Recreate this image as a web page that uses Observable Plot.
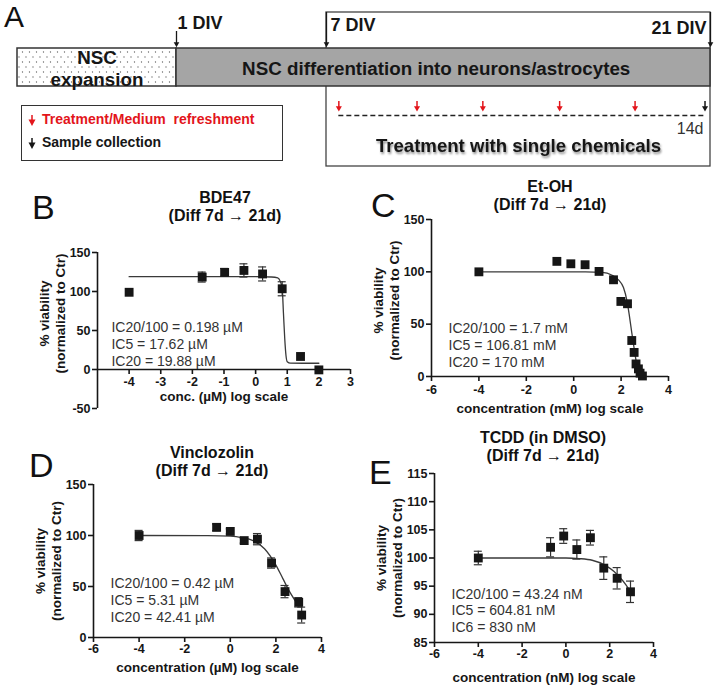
<!DOCTYPE html>
<html><head><meta charset="utf-8">
<script src="https://cdn.jsdelivr.net/npm/d3@7"></script>
<script src="https://cdn.jsdelivr.net/npm/@observablehq/plot@0.6"></script>
<style>
html,body{margin:0;padding:0;background:#fff;}
#fig{position:relative;width:716px;height:685px;overflow:hidden;font-family:"Liberation Sans",Arial,Helvetica,sans-serif;color:#111;}
.box{position:absolute;}
.letter{position:absolute;font-size:34px;line-height:34px;font-weight:normal;color:#111;}
.title{position:absolute;width:240px;text-align:center;font-size:16px;font-weight:bold;line-height:18px;color:#111;white-space:nowrap;}
.legend{position:absolute;left:21px;top:105px;width:260px;height:54px;border:1.5px solid #333;background:#fff;}
.legrow{position:absolute;left:6px;font-size:14px;font-weight:bold;white-space:pre;}
.legrow svg{vertical-align:middle;margin-right:6px;}
</style></head><body><div id="fig"></div><script>
// ---------- Panel A: schematic ----------
const stageNames = ["NSC\nexpansion", "NSC differentiation into neurons/astrocytes"];
const stageStart = [-5, 1];
const stageEnd = [1, 21];
const milestoneDays = [1, 7, 21];
const milestoneLabels = ["1 DIV", "7 DIV", "21 DIV"];
const treatmentDays = [7.45, 10.3, 12.7, 15.5, 18.25];
const collectionDays = [20.8];
const legendLabels = ["Treatment/Medium  refreshment", "Sample collection"];
const treatmentSpan = "14d";
const treatmentTitle = "Treatment with single chemicals";

// ---------- Panel B: BDE47 ----------
const bdeTitle = ["BDE47", "(Diff 7d \u2192 21d)"];
const bdeLogConc = [-4, -1.69, -0.98, -0.37, 0.22, 0.84, 1.42, 2.0];
const bdeViability = [99, 118.5, 124.5, 127, 122.5, 103.5, 16.7, -0.5];
const bdeSem = [0, 6.4, 5, 8.5, 9, 9, 0, 0];
const bdeFitLogConc = [-4, -2, 0, 0.5, 0.7, 0.78, 0.84, 0.88, 0.92, 0.96, 1.0, 1.1, 1.5, 2.0];
const bdeFitViability = [119, 119, 119, 118.6, 117.5, 113, 104, 72, 40, 18, 10, 8.2, 8, 8];
const bdeIC = ["IC20/100 = 0.198 \u00b5M", "IC5 = 17.62 \u00b5M", "IC20 = 19.88 \u00b5M"];
const bdeXTicks = [-4, -3, -2, -1, 0, 1, 2, 3];
const bdeXTickLabels = ["-4", "-3", "-2", "-1", "0", "1", "2", "3"];
const bdeYTicks = [-50, 0, 50, 100, 150];
const bdeYTickLabels = ["-50", "0", "50", "100", "150"];
const bdeXLabel = "conc. (\u00b5M) log scale";

// ---------- Panel C: Et-OH ----------
const etohTitle = ["Et-OH", "(Diff 7d \u2192 21d)"];
const etohLogConc = [-4, -0.71, -0.12, 0.48, 1.07, 1.68, 1.99, 2.27, 2.45, 2.55, 2.63, 2.73, 2.8, 2.9];
const etohViability = [100, 110, 107.7, 106.8, 100.4, 92.4, 71.7, 69.5, 34.4, 23, 12, 7.3, 3.2, 0.5];
const etohSem = [0, 0, 0, 0, 0, 0, 0, 0, 0, 0, 0, 0, 0, 0];
const etohFitLogConc = [-4, 0.5, 1.2, 1.6, 1.9, 2.1, 2.25, 2.35, 2.45, 2.55, 2.65, 2.75, 2.85, 2.95];
const etohFitViability = [100, 100, 99.5, 97, 92, 85, 72, 58, 42, 27, 13, 6, 2, 0.5];
const etohIC = ["IC20/100 = 1.7 mM", "IC5 = 106.81 mM", "IC20 = 170 mM"];
const etohXTicks = [-6, -4, -2, 0, 2, 4];
const etohXTickLabels = ["-6", "-4", "-2", "0", "2", "4"];
const etohYTicks = [0, 50, 100, 150];
const etohYTickLabels = ["0", "50", "100", "150"];
const etohXLabel = "concentration (mM) log scale";

// ---------- Panel D: Vinclozolin ----------
const vinTitle = ["Vinclozolin", "(Diff 7d \u2192 21d)"];
const vinLogConc = [-4, -0.6, 0, 0.61, 1.19, 1.81, 2.4, 3.0, 3.13];
const vinViability = [100, 108, 104, 95, 96.4, 73, 45, 34.5, 22];
const vinSem = [5, 3.3, 2.5, 2.5, 5.5, 5, 6, 4.6, 7.8];
const vinFitLogConc = [-4, -1, 0, 0.5, 1, 1.5, 2, 2.3, 2.6, 3.0];
const vinFitViability = [100, 99.8, 99.3, 98, 95, 87, 71, 58, 45, 31];
const vinIC = ["IC20/100 = 0.42 \u00b5M", "IC5 = 5.31 \u00b5M", "IC20 = 42.41 \u00b5M"];
const vinXTicks = [-6, -4, -2, 0, 2, 4];
const vinXTickLabels = ["-6", "-4", "-2", "0", "2", "4"];
const vinYTicks = [0, 50, 100, 150];
const vinYTickLabels = ["0", "50", "100", "150"];
const vinXLabel = "concentration (\u00b5M) log scale";

// ---------- Panel E: TCDD ----------
const tcddTitle = ["TCDD (in DMSO)", "(Diff 7d \u2192 21d)"];
const tcddLogConc = [-4, -0.7, -0.1, 0.5, 1.12, 1.73, 2.34, 2.95];
const tcddViability = [100, 101.9, 103.9, 101.5, 103.6, 98.2, 96.4, 94];
const tcddSem = [1.2, 1.7, 1.3, 1.7, 1.3, 2, 1.9, 1.9];
const tcddFitLogConc = [-4, 0, 0.6, 1.2, 1.8, 2.2, 2.5, 2.75, 2.95];
const tcddFitViability = [100, 100, 99.9, 99.6, 98.7, 97.6, 96.4, 95.2, 94];
const tcddIC = ["IC20/100 = 43.24 nM", "IC5 = 604.81 nM", "IC6 = 830 nM"];
const tcddXTicks = [-6, -4, -2, 0, 2, 4];
const tcddXTickLabels = ["-6", "-4", "-2", "0", "2", "4"];
const tcddYTicks = [85, 90, 95, 100, 105, 110, 115];
const tcddYTickLabels = ["85", "90", "95", "100", "105", "110", "115"];
const tcddXLabel = "concentration (nM) log scale";

const yLabelText = "% viability\n(normalized to Ctr)";

// ---------- drawing ----------
const ink = "#161616";
const red = "#e3151b";
const font = "'Liberation Sans', Arial, Helvetica, sans-serif";
const fig = document.getElementById("fig");

function place(node, left, top) {
  const d = document.createElement("div");
  d.className = "box";
  d.style.left = left + "px";
  d.style.top = top + "px";
  d.appendChild(node);
  fig.appendChild(d);
}
function addDiv(cls, html, left, top) {
  const d = document.createElement("div");
  d.className = cls;
  d.innerHTML = html;
  d.style.left = left + "px";
  d.style.top = top + "px";
  fig.appendChild(d);
  return d;
}

// Panel A
const stages = stageNames.map((name, i) => ({name, start: stageStart[i], end: stageEnd[i]}));
const rowY = {frameTop: 12, frameBottom: 166, barTop: 48, barBottom: 86, barText: 67.5,
  arrowTip: 43.5, treatTop: 101, treatHead: 107.5, dash: 115, span: 128, title: 146};
const msTop = [31, 12, 12];
const msLabelLayout = [{y: 23, dx: 1, anchor: "start"}, {y: 25, dx: 4, anchor: "start"}, {y: 28, dx: -4, anchor: "end"}];

const plotA = Plot.plot({
  width: 716, height: 172, margin: 0,
  x: {type: "linear", domain: [-5, 1, 7, 21], range: [17, 176, 326, 710], axis: null},
  y: {type: "linear", domain: [0, 172], range: [0, 172], axis: null},
  style: {fontFamily: font, background: "transparent", overflow: "visible"},
  marks: [
    Plot.rect([0], {x1: stageStart[1] + 6, x2: stageEnd[1], y1: rowY.frameTop, y2: rowY.frameBottom, fill: "white", stroke: "#444", strokeWidth: 1.3}),
    Plot.rect([stages[0]], {x1: "start", x2: "end", y1: rowY.barTop, y2: rowY.barBottom, fill: "url(#nscDots)", stroke: "#333", strokeWidth: 1.5}),
    Plot.rect([stages[1]], {x1: "start", x2: "end", y1: rowY.barTop, y2: rowY.barBottom, fill: "#a5a5a5", stroke: "#333", strokeWidth: 1.5}),
    Plot.text(stages, {x: s => (s.start + s.end) / 2, y: rowY.barText, text: "name", fontSize: 18.8, fontWeight: "bold", lineHeight: 1.18, fill: ink}),
    Plot.ruleX(milestoneDays, {x: d => d, y1: (d, i) => msTop[i], y2: rowY.arrowTip, stroke: ink, strokeWidth: 1.3}),
    Plot.dot(milestoneDays, {x: d => d, y: rowY.arrowTip, symbol: "triangle2", rotate: 180, r: 2.7, fill: ink}),
    ...milestoneLabels.map((lab, i) => Plot.text([lab], {x: milestoneDays[i], y: msLabelLayout[i].y, dx: msLabelLayout[i].dx, textAnchor: msLabelLayout[i].anchor, text: d => d, fontSize: 18, fontWeight: "bold", fill: ink})),
    Plot.ruleY([rowY.dash], {x1: treatmentDays[0], x2: collectionDays[0], stroke: "#222", strokeWidth: 1.5, strokeDasharray: "5,3"}),
    Plot.ruleX(treatmentDays, {x: d => d, y1: rowY.treatTop, y2: rowY.treatHead, stroke: red, strokeWidth: 1.5}),
    Plot.dot(treatmentDays, {x: d => d, y: rowY.treatHead, symbol: "triangle2", rotate: 180, r: 2.9, fill: red}),
    Plot.ruleX(collectionDays, {x: d => d, y1: rowY.treatTop, y2: rowY.treatHead, stroke: ink, strokeWidth: 1.5}),
    Plot.dot(collectionDays, {x: d => d, y: rowY.treatHead, symbol: "triangle2", rotate: 180, r: 2.9, fill: ink}),
    Plot.text([treatmentSpan], {x: stageEnd[1], y: rowY.span, dx: -7, textAnchor: "end", text: d => d, fontSize: 16, fill: "#333"}),
    Plot.text([treatmentTitle], {x: (stageStart[1] + 6 + stageEnd[1]) / 2, y: rowY.title, text: d => d, fontSize: 18.6, fontWeight: "bold", fill: ink})
  ]
});
d3.select(plotA).insert("defs", ":first-child").html(
  '<pattern id="nscDots" width="7" height="10" patternUnits="userSpaceOnUse">' +
  '<rect width="7" height="10" fill="#fff"/>' +
  '<circle cx="1.5" cy="2" r="0.65" fill="#666"/><circle cx="5" cy="7" r="0.65" fill="#666"/></pattern>');
d3.select(plotA).selectAll("text").filter(function() { return this.textContent === treatmentTitle; })
  .style("filter", "drop-shadow(1px 2px 1.2px rgba(0,0,0,0.45))");
place(plotA, 0, 0);
const letterA = addDiv("letter", "A", 4, 2);
letterA.style.fontSize = "30px";
letterA.style.lineHeight = "30px";

// legend (HTML)
const legend = document.createElement("div");
legend.className = "legend";
const arrowSvg = c => `<svg width="8" height="11" viewBox="0 0 8 11"><line x1="4" y1="0" x2="4" y2="5" stroke="${c}" stroke-width="1.5"/><path d="M0.5,4.5 L7.5,4.5 L4,11 Z" fill="${c}"/></svg>`;
legend.innerHTML =
  `<div class="legrow" style="top:5px;color:${red}">${arrowSvg(red)}${legendLabels[0]}</div>` +
  `<div class="legrow" style="top:28px;color:${ink}">${arrowSvg(ink)}${legendLabels[1]}</div>`;
fig.appendChild(legend);

// dose-response panels
function dosePanel(d, L) {
  const x0 = d.xDomain[0];
  const pts = d.logConc.map((x, i) => ({x, y: d.viability[i], e: d.sem[i]}));
  const errPts = pts.filter(p => p.e > 0);
  const fit = d.fitLogConc.map((x, i) => ({x, y: d.fitViability[i]}));
  const xMid = (d.xDomain[0] + d.xDomain[1]) / 2;
  const axisW = 1.6;
  return Plot.plot({
    width: L.width, height: L.height,
    marginTop: L.mt, marginRight: L.mr, marginBottom: L.mb, marginLeft: L.ml,
    x: {domain: d.xDomain, axis: null},
    y: {domain: d.yDomain, axis: null},
    style: {fontFamily: font, background: "transparent", overflow: "visible"},
    marks: [
      Plot.line(fit, {x: "x", y: "y", curve: "monotone-x", stroke: "#3a3a3a", strokeWidth: 1.3}),
      Plot.ruleX(errPts, {x: "x", y1: p => p.y - p.e, y2: p => p.y + p.e, stroke: "#333", strokeWidth: 1.2}),
      Plot.ruleY(errPts, {y: p => p.y - p.e, x1: "x", x2: "x", insetLeft: -4, insetRight: -4, stroke: "#333", strokeWidth: 1.2}),
      Plot.ruleY(errPts, {y: p => p.y + p.e, x1: "x", x2: "x", insetLeft: -4, insetRight: -4, stroke: "#333", strokeWidth: 1.2}),
      Plot.dot(pts, {x: "x", y: "y", symbol: "square", r: 5, fill: ink}),
      Plot.ruleY([d.xAxisAt], {x1: d.xDomain[0], x2: d.xDomain[1], stroke: ink, strokeWidth: axisW}),
      Plot.ruleX([x0], {y1: d.yDomain[0], y2: d.yDomain[1], stroke: ink, strokeWidth: axisW}),
      Plot.ruleX(d.xTicks, {x: t => t, y1: d.xAxisAt, y2: d.xAxisAt, insetBottom: -5, stroke: ink, strokeWidth: axisW}),
      Plot.ruleY(d.yTicks, {y: t => t, x1: x0, x2: x0, insetLeft: -5, stroke: ink, strokeWidth: axisW}),
      Plot.text(d.xTicks, {x: t => t, y: d.xAxisAt, dy: L.xTickDy, text: (t, i) => d.xTickLabels[i], fontSize: 12.5, fontWeight: "bold", fill: ink}),
      Plot.text(d.yTicks, {x: x0, y: t => t, dx: -7, textAnchor: "end", text: (t, i) => d.yTickLabels[i], fontSize: 12.5, fontWeight: "bold", fill: ink}),
      Plot.text([d.xLabel], {x: xMid, y: d.xAxisAt, dy: L.xLabelDy, text: s => s, fontSize: 13.5, fontWeight: "bold", fill: ink}),
      Plot.text([yLabelText], {frameAnchor: "left", textAnchor: "middle", dx: -45.5, dy: L.yLabelDy, rotate: -90, text: s => s, lineHeight: 1.18, fontSize: 13.5, fontWeight: "bold", fill: ink}),
      Plot.text([d.ic.join("\n")], {x: L.icX, y: L.icY, text: s => s, textAnchor: "start", lineHeight: 1.2, fontSize: 14, fill: "#333"})
    ]
  });
}

const panels = [
  {letter: "B", title: bdeTitle, titleX: 225, titleTop: 189, letterX: 32, letterTop: 190,
   d: {xDomain: [-5, 3], yDomain: [-50, 150], xAxisAt: 0, logConc: bdeLogConc, viability: bdeViability, sem: bdeSem,
       fitLogConc: bdeFitLogConc, fitViability: bdeFitViability, ic: bdeIC, xTicks: bdeXTicks, xTickLabels: bdeXTickLabels,
       yTicks: bdeYTicks, yTickLabels: bdeYTickLabels, xLabel: bdeXLabel},
   L: {left: 0, top: 180, width: 360, height: 250, mt: 72, mb: 22, ml: 97, mr: 10, xTickDy: 12.5, xLabelDy: 27, yLabelDy: -17, icX: -4.56, icY: 33.3}},
  {letter: "C", title: etohTitle, titleX: 550, titleTop: 178, letterX: 371, letterTop: 188,
   d: {xDomain: [-6, 4], yDomain: [0, 150], xAxisAt: 0, logConc: etohLogConc, viability: etohViability, sem: etohSem,
       fitLogConc: etohFitLogConc, fitViability: etohFitViability, ic: etohIC, xTicks: etohXTicks, xTickLabels: etohXTickLabels,
       yTicks: etohYTicks, yTickLabels: etohYTickLabels, xLabel: etohXLabel},
   L: {left: 360, top: 180, width: 356, height: 250, mt: 39, mb: 54, ml: 71, mr: 48, xTickDy: 13, xLabelDy: 32, yLabelDy: 2.5, icX: -5.28, icY: 30.6}},
  {letter: "D", title: vinTitle, titleX: 212, titleTop: 444, letterX: 29, letterTop: 448,
   d: {xDomain: [-6, 4], yDomain: [0, 150], xAxisAt: 0, logConc: vinLogConc, viability: vinViability, sem: vinSem,
       fitLogConc: vinFitLogConc, fitViability: vinFitViability, ic: vinIC, xTicks: vinXTicks, xTickLabels: vinXTickLabels,
       yTicks: vinYTicks, yTickLabels: vinYTickLabels, xLabel: vinXLabel},
   L: {left: 0, top: 430, width: 360, height: 255, mt: 54, mb: 48, ml: 93, mr: 39, xTickDy: 11.5, xLabelDy: 30, yLabelDy: 0, icX: -5.25, icY: 37.3}},
  {letter: "E", title: tcddTitle, titleX: 543, titleTop: 429, letterX: 369, letterTop: 455,
   d: {xDomain: [-6, 4], yDomain: [85, 115], xAxisAt: 85, logConc: tcddLogConc, viability: tcddViability, sem: tcddSem,
       fitLogConc: tcddFitLogConc, fitViability: tcddFitViability, ic: tcddIC, xTicks: tcddXTicks, xTickLabels: tcddXTickLabels,
       yTicks: tcddYTicks, yTickLabels: tcddYTickLabels, xLabel: tcddXLabel},
   L: {left: 360, top: 430, width: 356, height: 255, mt: 43, mb: 43, ml: 74, mr: 63, xTickDy: 11.5, xLabelDy: 35, yLabelDy: 0, icX: -5.22, icY: 90.75}}
];

for (const p of panels) {
  place(dosePanel(p.d, p.L), p.L.left, p.L.top);
  addDiv("title", p.title.join("<br>"), p.titleX - 120, p.titleTop);
  addDiv("letter", p.letter, p.letterX, p.letterTop);
}
</script></body></html>
